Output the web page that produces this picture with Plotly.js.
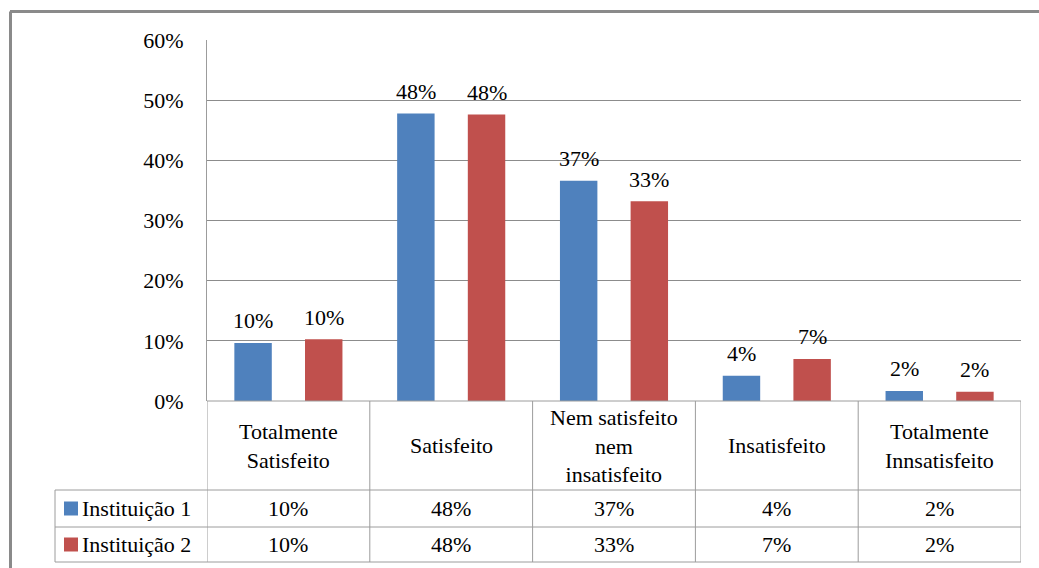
<!DOCTYPE html>
<html>
<head>
<meta charset="utf-8">
<script src="https://cdn.plot.ly/plotly-3.0.1.min.js"></script>
<style>html,body{margin:0;padding:0;background:#fff;}#chart{width:1039px;height:568px;}</style>
</head>
<body>
<div id="chart"></div>
<script>
// ---- data ----
const categories = ["Totalmente<br>Satisfeito", "Satisfeito", "Nem satisfeito<br>nem<br>insatisfeito", "Insatisfeito", "Totalmente<br>Innsatisfeito"];
const seriesNames = ["Instituição 1", "Instituição 2"];
const inst1 = [0.0965, 0.478, 0.366, 0.042, 0.0167];
const inst2 = [0.1025, 0.476, 0.332, 0.070, 0.0155];
const labels1 = ["10%", "48%", "37%", "4%", "2%"];
const labels2 = ["10%", "48%", "33%", "7%", "2%"];
const yTickVals = [0, 0.1, 0.2, 0.3, 0.4, 0.5, 0.6];
const yTickText = ["0%", "10%", "20%", "30%", "40%", "50%", "60%"];

// ---- geometry helpers (pixel -> paper) ----
const W = 1039, H = 568;
const L = 207, R = 1021, T = 40, B = 401;
const px = x => (x - L) / (R - L);
const py = y => (B - y) / (B - T);

const FONT = "Liberation Serif, Times New Roman, serif";
const FS = 22;
const colors = ["#4F81BD", "#C0504D"];
const gridCol = "#8c8c8c";
const tblCol = "#9c9c9c";
const idx = categories.map((_, i) => i);

const traces = [
  {type: "bar", x: idx, y: inst1, name: seriesNames[0], marker: {color: colors[0]}, width: 0.23, offset: -0.332, hoverinfo: "skip"},
  {type: "bar", x: idx, y: inst2, name: seriesNames[1], marker: {color: colors[1]}, width: 0.23, offset: 0.102, hoverinfo: "skip"}
];

const annotations = [];
const shapes = [];
const halfOff = 0.217;
idx.forEach(i => {
  annotations.push({x: i - halfOff, y: inst1[i], xref: "x", yref: "y", text: labels1[i], showarrow: false, yanchor: "middle", yshift: 22, font: {family: FONT, size: FS, color: "#000"}});
  annotations.push({x: i + halfOff, y: inst2[i], xref: "x", yref: "y", text: labels2[i], showarrow: false, yanchor: "middle", yshift: 22, font: {family: FONT, size: FS, color: "#000"}});
  // table
  annotations.push({x: i, y: py(445.5), xref: "x", yref: "paper", text: categories[i], showarrow: false, yanchor: "middle", font: {family: FONT, size: FS, color: "#000"}});
  annotations.push({x: i, y: py(508.5), xref: "x", yref: "paper", text: labels1[i], showarrow: false, yanchor: "middle", font: {family: FONT, size: FS, color: "#000"}});
  annotations.push({x: i, y: py(544.5), xref: "x", yref: "paper", text: labels2[i], showarrow: false, yanchor: "middle", font: {family: FONT, size: FS, color: "#000"}});
});
// legend column
[508.5, 544.5].forEach((yc, k) => {
  shapes.push({type: "rect", xref: "paper", yref: "paper", x0: px(64), x1: px(78), y0: py(yc - 7), y1: py(yc + 7), fillcolor: colors[k], line: {width: 0}});
  annotations.push({x: px(80), y: py(yc), xref: "paper", yref: "paper", text: seriesNames[k], showarrow: false, xanchor: "left", yanchor: "middle", font: {family: FONT, size: FS, color: "#000"}});
});
// table lines
const hl = (y, x0, x1) => shapes.push({type: "line", xref: "paper", yref: "paper", x0: px(x0), x1: px(x1), y0: py(y), y1: py(y), line: {color: tblCol, width: 1}});
hl(401, L, R); hl(490, 55, R); hl(527, 55, R); hl(562, 55, R);
for (let b = 0; b <= categories.length; b++) {
  shapes.push({type: "line", xref: "x", yref: "paper", x0: b - 0.5, x1: b - 0.5, y0: py(401), y1: py(562), line: {color: tblCol, width: 1}});
}
shapes.push({type: "line", xref: "paper", yref: "paper", x0: px(55), x1: px(55), y0: py(490), y1: py(562), line: {color: tblCol, width: 1}});
// outer chart border
shapes.push({type: "line", xref: "paper", yref: "paper", x0: px(10), x1: px(1045), y0: py(11.5), y1: py(11.5), line: {color: "#8a8a8a", width: 3}});
shapes.push({type: "line", xref: "paper", yref: "paper", x0: px(10.5), x1: px(10.5), y0: py(11.5), y1: py(575), line: {color: "#8a8a8a", width: 3}});

const layout = {
  width: W, height: H,
  margin: {l: L, r: W - R, t: T, b: H - B, pad: 0},
  paper_bgcolor: "#fff", plot_bgcolor: "#fff",
  showlegend: false,
  barmode: "group",
  font: {family: FONT, size: FS, color: "#000"},
  xaxis: {range: [-0.5, categories.length - 0.5], showticklabels: false, showgrid: false, zeroline: false, showline: false, ticks: "", fixedrange: true},
  yaxis: {range: [0, 0.6], tickvals: yTickVals, ticktext: yTickText, showgrid: true, gridcolor: gridCol, gridwidth: 1, zeroline: false,
          showline: true, linecolor: tblCol, linewidth: 1, ticks: "", ticklabelstandoff: 18, tickfont: {family: FONT, size: FS, color: "#000"}, fixedrange: true},
  annotations: annotations,
  shapes: shapes
};

Plotly.newPlot("chart", traces, layout, {displayModeBar: false, staticPlot: true});
</script>
</body>
</html>
